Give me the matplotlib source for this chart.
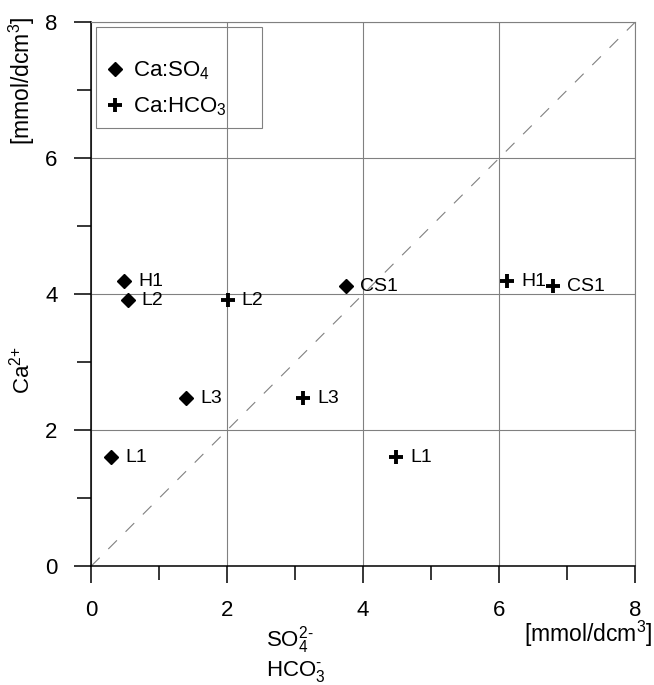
import matplotlib
matplotlib.use('Agg')
import matplotlib.pyplot as plt
from matplotlib.patches import Rectangle
from matplotlib.ticker import MultipleLocator

plt.rcParams['font.family'] = ['Liberation Sans', 'DejaVu Sans']
plt.rcParams['mathtext.fontset'] = 'custom'
plt.rcParams['mathtext.rm'] = 'Liberation Sans'
plt.rcParams['mathtext.it'] = 'Liberation Sans:italic'
plt.rcParams['mathtext.bf'] = 'Liberation Sans:bold'

# ---- data ----
samples = ['L1', 'L2', 'L3', 'H1', 'CS1']
ca = [1.60, 3.91, 2.47, 4.19, 4.12]
so4 = [0.30, 0.54, 1.40, 0.49, 3.75]
hco3 = [4.49, 2.01, 3.12, 6.12, 6.80]
ticks = [0, 2, 4, 6, 8]
series_names = ['Ca:SO$\\mathregular{_4}$', 'Ca:HCO$\\mathregular{_3}$']

W, H = 654, 685
fig = plt.figure(figsize=(W / 100, H / 100), dpi=100)
ax = fig.add_axes([91 / W, 1 - 566.3 / H, 544 / W, 544 / H])

grid_c = '#808080'
ax.set_xlim(0, 8)
ax.set_ylim(0, 8)
ax.set_xticks(ticks)
ax.set_yticks(ticks)
ax.xaxis.set_minor_locator(MultipleLocator(1))
ax.yaxis.set_minor_locator(MultipleLocator(1))
ax.grid(True, which='major', color=grid_c, lw=0.8, zorder=0)
ax.set_axisbelow(True)
ax.tick_params(which='major', length=12.2, width=1.1, pad=12, labelsize=16, direction='out', color='black')
ax.tick_params(which='minor', length=10, width=1.1, direction='out', color='black')
for s in ['top', 'right']:
    ax.spines[s].set_color(grid_c)
    ax.spines[s].set_linewidth(0.8)
for s in ['left', 'bottom']:
    ax.spines[s].set_color('black')
    ax.spines[s].set_linewidth(1.1)

# 1:1 line
ax.plot([0, 8], [0, 8], color=grid_c, lw=0.8, dashes=(11, 11), zorder=1)

h1, = ax.plot(so4, ca, linestyle='none', marker='D', ms=7, color='black', zorder=3)
h2, = ax.plot(hco3, ca, linestyle='none', marker='+', ms=10, mew=2.8, color='black', zorder=3)

for xs in (so4, hco3):
    for x, y, s in zip(xs, ca, samples):
        ax.annotate(s, (x, y), xytext=(10, 0), textcoords='offset points',
                    ha='left', va='center', fontsize=14)

# legend
leg = ax.legend([h1, h2], series_names, loc='center left',
                bbox_to_anchor=(104.6 / W, 1 - 89 / H), bbox_transform=fig.transFigure,
                frameon=False, fontsize=16, handlelength=0.95, handletextpad=0.35,
                borderpad=0, borderaxespad=0, labelspacing=0.62)
fig.patches.append(Rectangle((96 / W, 1 - 128 / H), 166 / W, 101 / H,
                             transform=fig.transFigure, fill=False,
                             edgecolor=grid_c, lw=0.8))

# axis labels
hy = '\u2010'
fig.text(266 / W, 1 - 647 / H, 'SO$\\mathregular{_4^{2' + hy + '}}$', ha='left', va='baseline', fontsize=16)
fig.text(266 / W, 1 - 676 / H, 'HCO$\\mathregular{_3^{' + hy + '}}$', ha='left', va='baseline', fontsize=16)
fig.text(652 / W, 1 - 634 / H, '[mmol/dcm$\\mathregular{^3}$]', ha='right', va='center', fontsize=16.5)
fig.text(22 / W, 1 - 370 / H, 'Ca$\\mathregular{^{2{+}}}$', ha='center', va='center', fontsize=16, rotation=90)
fig.text(22 / W, 1 - 17 / H, '[mmol/dcm$\\mathregular{^3}$]', ha='center', va='top', fontsize=16.5, rotation=90)

fig.savefig('out.png', dpi=100)
